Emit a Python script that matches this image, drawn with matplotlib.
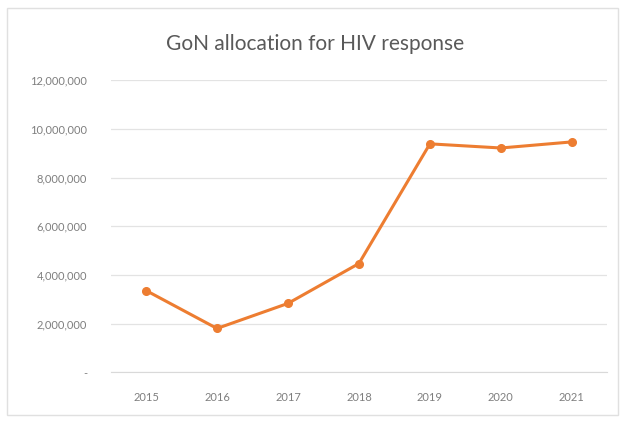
import matplotlib
matplotlib.use("Agg")
import matplotlib.pyplot as plt
from matplotlib.patches import Rectangle
from matplotlib.ticker import FuncFormatter

# GoN allocation by year
years = ["2015", "2016", "2017", "2018", "2019", "2020", "2021"]
allocation = [3360000, 1800000, 2830000, 4470000, 9390000, 9220000, 9470000]

plt.rcParams['font.family'] = ['Lato', 'DejaVu Sans']

fig = plt.figure(figsize=(6.21, 4.23), dpi=100)
ax = fig.add_axes([0.178, 0.12, 0.80, 0.69])

xs = range(len(years))
ax.plot(xs, allocation, color="#ED7D31", linewidth=2.2, marker="o", markersize=5.5)

ax.set_xlim(-0.5, len(years) - 0.5)
ax.set_ylim(0, 12000000)
ax.set_yticks(range(0, 12000001, 2000000))
ax.yaxis.set_major_formatter(FuncFormatter(lambda v, p: "-" if v == 0 else f"{int(v):,}"))
ax.set_xticks(list(xs))
ax.set_xticklabels(years)

ax.grid(axis="y", color="#e3e3e3", linewidth=0.9)
ax.set_axisbelow(True)
for s in ["top", "right", "left"]:
    ax.spines[s].set_visible(False)
ax.spines["bottom"].set_color("#d9d9d9")
ax.tick_params(axis="both", length=0, labelsize=8, colors="#7f7f7f")
ax.tick_params(axis="x", pad=14)
ax.tick_params(axis="y", pad=17)

fig.text(0.507, 0.895, "GoN allocation for HIV response", ha="center", va="center",
         fontsize=15, color="#595959")

# light frame around the whole chart
fig.patches.append(Rectangle((0.011, 0.018), 0.984, 0.962, transform=fig.transFigure,
                             fill=False, edgecolor="#e0e0e0", linewidth=1.0))

fig.savefig("out.png", dpi=100)
